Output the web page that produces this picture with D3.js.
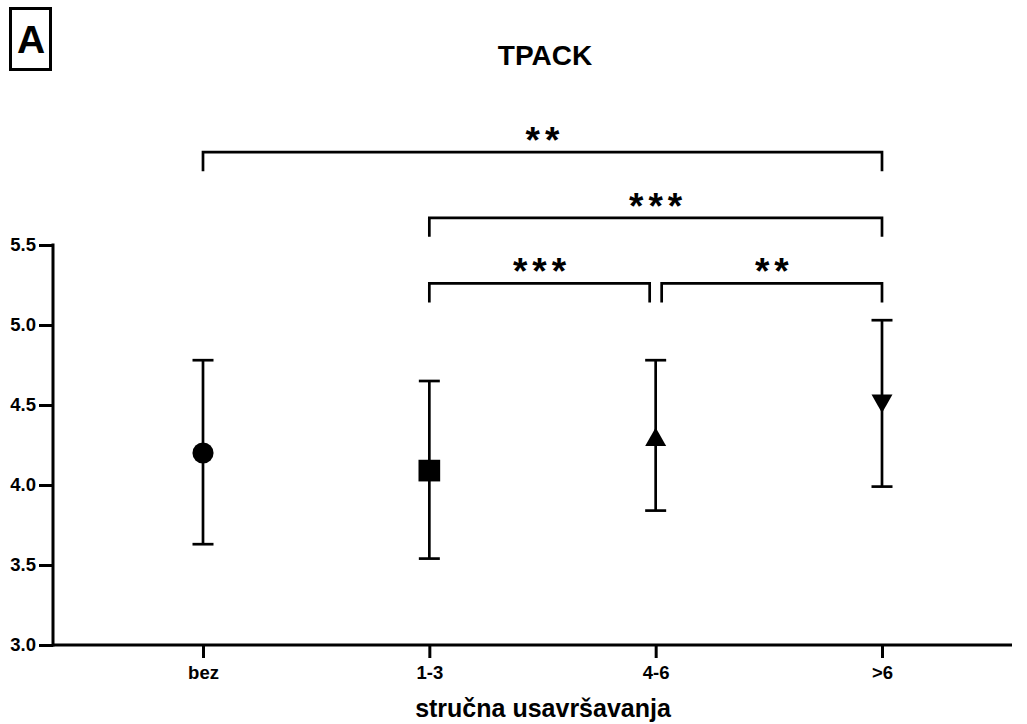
<!DOCTYPE html>
<html>
<head>
<meta charset="utf-8">
<script src="https://cdn.jsdelivr.net/npm/d3@7"></script>
<style>
  body { margin: 0; background: #fff; }
  svg text { font-family: Arial, "Liberation Sans", sans-serif; }
</style>
</head>
<body>
<div id="viz"></div>
<script>
// data
const categories = ["bez", "1-3", "4-6", ">6"];
const means = [4.20, 4.09, 4.30, 4.51];
const upper = [4.78, 4.65, 4.78, 5.03];
const lower = [3.63, 3.54, 3.84, 3.99];
const symbols = ["circle", "square", "triangle", "triangleDown"];
const yTicks = [3.0, 3.5, 4.0, 4.5, 5.0, 5.5];

// significance brackets: from, to, level, label
const sigFrom = ["bez", "1-3", "1-3", "4-6"];
const sigTo = [">6", ">6", "4-6", ">6"];
const sigLevel = [6.08, 5.67, 5.26, 5.26];
const sigLabel = ["**", "***", "***", "**"];

const width = 1027;
const height = 724;

const svg = d3.select("#viz").append("svg")
    .attr("width", width)
    .attr("height", height);

const x = d3.scalePoint()
    .domain(categories)
    .range([203, 882]);

const y = d3.scaleLinear()
    .domain([3.0, 5.5])
    .range([645, 245]);

const axisLeft = 53;
const axisRight = 1012;
const tickFont = "18.5px";

// y axis
const yAxis = svg.append("g")
    .attr("transform", `translate(${axisLeft},0)`)
    .call(d3.axisLeft(y).tickValues(yTicks).tickFormat(d3.format(".1f")).tickSize(14).tickSizeOuter(0));
yAxis.select(".domain").remove();
yAxis.selectAll(".tick line").attr("stroke", "#000").attr("stroke-width", 3);
yAxis.selectAll(".tick text")
    .attr("x", -17)
    .style("font-size", tickFont)
    .style("font-weight", "bold")
    .style("font-family", "Arial, 'Liberation Sans', sans-serif")
    .attr("fill", "#000");

svg.append("line")
    .attr("x1", axisLeft).attr("x2", axisLeft)
    .attr("y1", y(5.5) - 1.5).attr("y2", y(3.0) + 1.5)
    .attr("stroke", "#000").attr("stroke-width", 3);

// x axis
const xAxis = svg.append("g")
    .attr("transform", `translate(0,${y(3.0)})`)
    .call(d3.axisBottom(x).tickSize(13).tickSizeOuter(0));
xAxis.select(".domain").remove();
xAxis.selectAll(".tick line").attr("stroke", "#000").attr("stroke-width", 3);
xAxis.selectAll(".tick text")
    .attr("y", 21)
    .style("font-size", tickFont)
    .style("font-weight", "bold")
    .style("font-family", "Arial, 'Liberation Sans', sans-serif")
    .attr("fill", "#000");

svg.append("line")
    .attr("x1", axisLeft).attr("x2", axisRight)
    .attr("y1", y(3.0)).attr("y2", y(3.0))
    .attr("stroke", "#000").attr("stroke-width", 3);

// error bars
const pts = categories.map((c, i) => ({ c: c, m: means[i], hi: upper[i], lo: lower[i], s: symbols[i] }));

const bars = svg.append("g").attr("stroke", "#000").attr("stroke-width", 2.7);
bars.selectAll(".stem").data(pts).enter().append("line")
    .attr("x1", d => x(d.c)).attr("x2", d => x(d.c))
    .attr("y1", d => y(d.hi)).attr("y2", d => y(d.lo));
bars.selectAll(".capHi").data(pts).enter().append("line")
    .attr("x1", d => x(d.c) - 10.5).attr("x2", d => x(d.c) + 10.5)
    .attr("y1", d => y(d.hi)).attr("y2", d => y(d.hi));
bars.selectAll(".capLo").data(pts).enter().append("line")
    .attr("x1", d => x(d.c) - 10.5).attr("x2", d => x(d.c) + 10.5)
    .attr("y1", d => y(d.lo)).attr("y2", d => y(d.lo));

// markers
const symbolPath = {
    circle: d3.symbol().type(d3.symbolCircle).size(350)(),
    square: d3.symbol().type(d3.symbolSquare).size(470)(),
    triangle: "M0,-9.5L10.5,9L-10.5,9Z",
    triangleDown: "M0,9.5L10.5,-9L-10.5,-9Z"
};
svg.selectAll(".marker").data(pts).enter().append("path")
    .attr("transform", d => `translate(${x(d.c)},${y(d.m)})`)
    .attr("d", d => symbolPath[d.s])
    .attr("fill", "#000");

// significance brackets
const sig = sigFrom.map((f, i) => ({ f: f, t: sigTo[i], lv: sigLevel[i], lab: sigLabel[i] }));
const sg = svg.append("g");
const starSpacing = 5;
sig.forEach(d => {
    let x1 = x(d.f), x2 = x(d.t);
    // adjacent brackets at the same level leave a small gap
    if (sig.some(o => o !== d && o.lv === d.lv && o.f === d.t)) x2 -= 6;
    if (sig.some(o => o !== d && o.lv === d.lv && o.t === d.f)) x1 += 6;
    const yy = y(d.lv);
    sg.append("path")
        .attr("d", `M${x1},${yy + 19}V${yy}H${x2}V${yy + 19}`)
        .attr("fill", "none")
        .attr("stroke", "#000")
        .attr("stroke-width", 2.7);
    sg.append("text")
        .attr("x", (x1 + x2) / 2 + starSpacing / 2)
        .attr("y", yy + 1)
        .attr("text-anchor", "middle")
        .style("font-size", "37px")
        .style("font-weight", "bold")
        .style("letter-spacing", starSpacing + "px")
        .text(d.lab);
});

// title
svg.append("text")
    .attr("x", 545).attr("y", 65)
    .attr("text-anchor", "middle")
    .style("font-size", "28px")
    .style("font-weight", "bold")
    .text("TPACK");

// axis title
svg.append("text")
    .attr("x", 543).attr("y", 717)
    .attr("text-anchor", "middle")
    .style("font-size", "25px")
    .style("font-weight", "bold")
    .text("stručna usavršavanja");

// panel letter
svg.append("rect")
    .attr("x", 10.5).attr("y", 8.5)
    .attr("width", 40).attr("height", 61)
    .attr("fill", "none")
    .attr("stroke", "#000")
    .attr("stroke-width", 3);
svg.append("text")
    .attr("x", 31).attr("y", 53)
    .attr("text-anchor", "middle")
    .style("font-size", "39px")
    .style("font-weight", "bold")
    .text("A");
</script>
</body>
</html>
